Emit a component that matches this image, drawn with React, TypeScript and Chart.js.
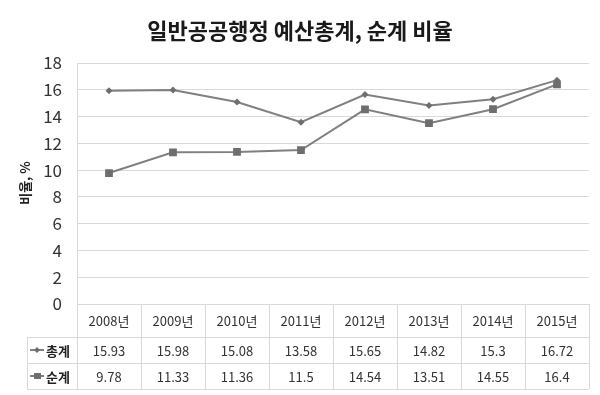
import React, { useEffect, useRef } from "react";
import { Chart, registerables } from "chart.js";

Chart.register(...registerables);

const title = "일반공공행정 예산총계, 순계 비율";
const yAxisTitle = "비율, %";
const categories = ["2008년", "2009년", "2010년", "2011년", "2012년", "2013년", "2014년", "2015년"];
const seriesNames = ["총계", "순계"];
const totalValues = [15.93, 15.98, 15.08, 13.58, 15.65, 14.82, 15.3, 16.72];
const netValues = [9.78, 11.33, 11.36, 11.5, 14.54, 13.51, 14.55, 16.4];
const totalLabels = ["15.93", "15.98", "15.08", "13.58", "15.65", "14.82", "15.3", "16.72"];
const netLabels = ["9.78", "11.33", "11.36", "11.5", "14.54", "13.51", "14.55", "16.4"];

const FONT = "'Noto Sans CJK KR', 'Noto Sans', sans-serif";
const LINE = "#808080";
const MARK = "#6e6e6e";
const GRID = "#d9d9d9";

const tablePlugin = {
  id: "tablePlugin",
  afterDraw(chart: any) {
    const ctx = chart.ctx as CanvasRenderingContext2D;
    const { left, right, bottom } = chart.chartArea;
    const xs = chart.scales.x;
    const n = categories.length;
    const colW = (right - left) / n;
    const catTop = bottom;
    const r1 = catTop + 33;
    const r2 = r1 + 26;
    const tb = r2 + 26;
    const legLeft = 27;

    ctx.save();
    // title
    ctx.fillStyle = "#1a1a1a";
    ctx.font = `bold 22px ${FONT}`;
    ctx.textAlign = "center";
    ctx.textBaseline = "middle";
    ctx.fillText(title, 300, 31);

    // y axis title
    ctx.save();
    ctx.translate(25, 183);
    ctx.rotate(-Math.PI / 2);
    ctx.font = `bold 13px ${FONT}`;
    ctx.fillStyle = "#222";
    ctx.fillText(yAxisTitle, 0, 0);
    ctx.restore();

    // table lines
    ctx.strokeStyle = GRID;
    ctx.lineWidth = 1;
    ctx.beginPath();
    ctx.moveTo(legLeft, r1 + 0.5); ctx.lineTo(right, r1 + 0.5);
    ctx.moveTo(legLeft, r2 + 0.5); ctx.lineTo(right, r2 + 0.5);
    ctx.moveTo(legLeft, tb + 0.5); ctx.lineTo(right, tb + 0.5);
    ctx.moveTo(legLeft + 0.5, r1); ctx.lineTo(legLeft + 0.5, tb);
    for (let i = 0; i <= n; i++) {
      const x = Math.round(left + i * colW) + 0.5;
      ctx.moveTo(x, catTop); ctx.lineTo(x, tb);
    }
    ctx.stroke();

    // texts
    ctx.fillStyle = "#333";
    ctx.font = `13px ${FONT}`;
    ctx.textAlign = "center";
    for (let i = 0; i < n; i++) {
      const x = xs.getPixelForValue(i);
      ctx.fillText(categories[i], x, (catTop + r1) / 2 + 1);
      ctx.fillText(totalLabels[i], x, (r1 + r2) / 2 + 1);
      ctx.fillText(netLabels[i], x, (r2 + tb) / 2 + 1);
    }

    // legend keys
    const keys = [(r1 + r2) / 2, (r2 + tb) / 2];
    keys.forEach((cy, k) => {
      ctx.strokeStyle = LINE;
      ctx.lineWidth = 2;
      ctx.beginPath();
      ctx.moveTo(30, cy); ctx.lineTo(44, cy);
      ctx.stroke();
      ctx.fillStyle = MARK;
      ctx.beginPath();
      if (k === 0) {
        ctx.moveTo(37, cy - 3); ctx.lineTo(40, cy); ctx.lineTo(37, cy + 3); ctx.lineTo(34, cy);
        ctx.closePath();
      } else {
        ctx.rect(34, cy - 3, 7, 6);
      }
      ctx.fill();
      ctx.fillStyle = "#222";
      ctx.font = `bold 13px ${FONT}`;
      ctx.textAlign = "left";
      ctx.fillText(seriesNames[k], 46, cy + 1);
    });
    ctx.restore();
  },
};

export default function App() {
  const ref = useRef<HTMLCanvasElement>(null);
  useEffect(() => {
    if (!ref.current) return;
    const chart = new Chart(ref.current, {
      type: "line",
      data: {
        labels: categories,
        datasets: [
          {
            label: seriesNames[0],
            data: totalValues,
            borderColor: LINE,
            backgroundColor: MARK,
            borderWidth: 2,
            pointStyle: "rectRot",
            pointRadius: 3.5,
            pointBorderWidth: 0,
            tension: 0,
          },
          {
            label: seriesNames[1],
            data: netValues,
            borderColor: LINE,
            backgroundColor: MARK,
            borderWidth: 2,
            pointStyle: "rect",
            pointRadius: 5.5,
            pointBorderWidth: 0,
            tension: 0,
          },
        ],
      },
      options: {
        responsive: false,
        animation: false,
        devicePixelRatio: 1,
        layout: { padding: { left: 0, right: 11, top: 63, bottom: 91 } },
        plugins: { legend: { display: false }, title: { display: false }, tooltip: { enabled: false } },
        scales: {
          x: { display: false, offset: true },
          y: {
            min: 0,
            max: 18,
            ticks: { stepSize: 2, padding: 15, color: "#333", font: { size: 17, family: FONT } },
            grid: { color: GRID, drawTicks: false, lineWidth: 1 },
            border: { display: true, color: GRID },
            afterFit: (s: any) => { s.width = 77; },
          },
        },
      },
      plugins: [tablePlugin],
    });
    return () => chart.destroy();
  }, []);
  return (
    <div style={{ position: "absolute", left: 0, top: 0, width: 600, height: 395, background: "#fff" }}>
      <canvas ref={ref} width={600} height={395} />
    </div>
  );
}
